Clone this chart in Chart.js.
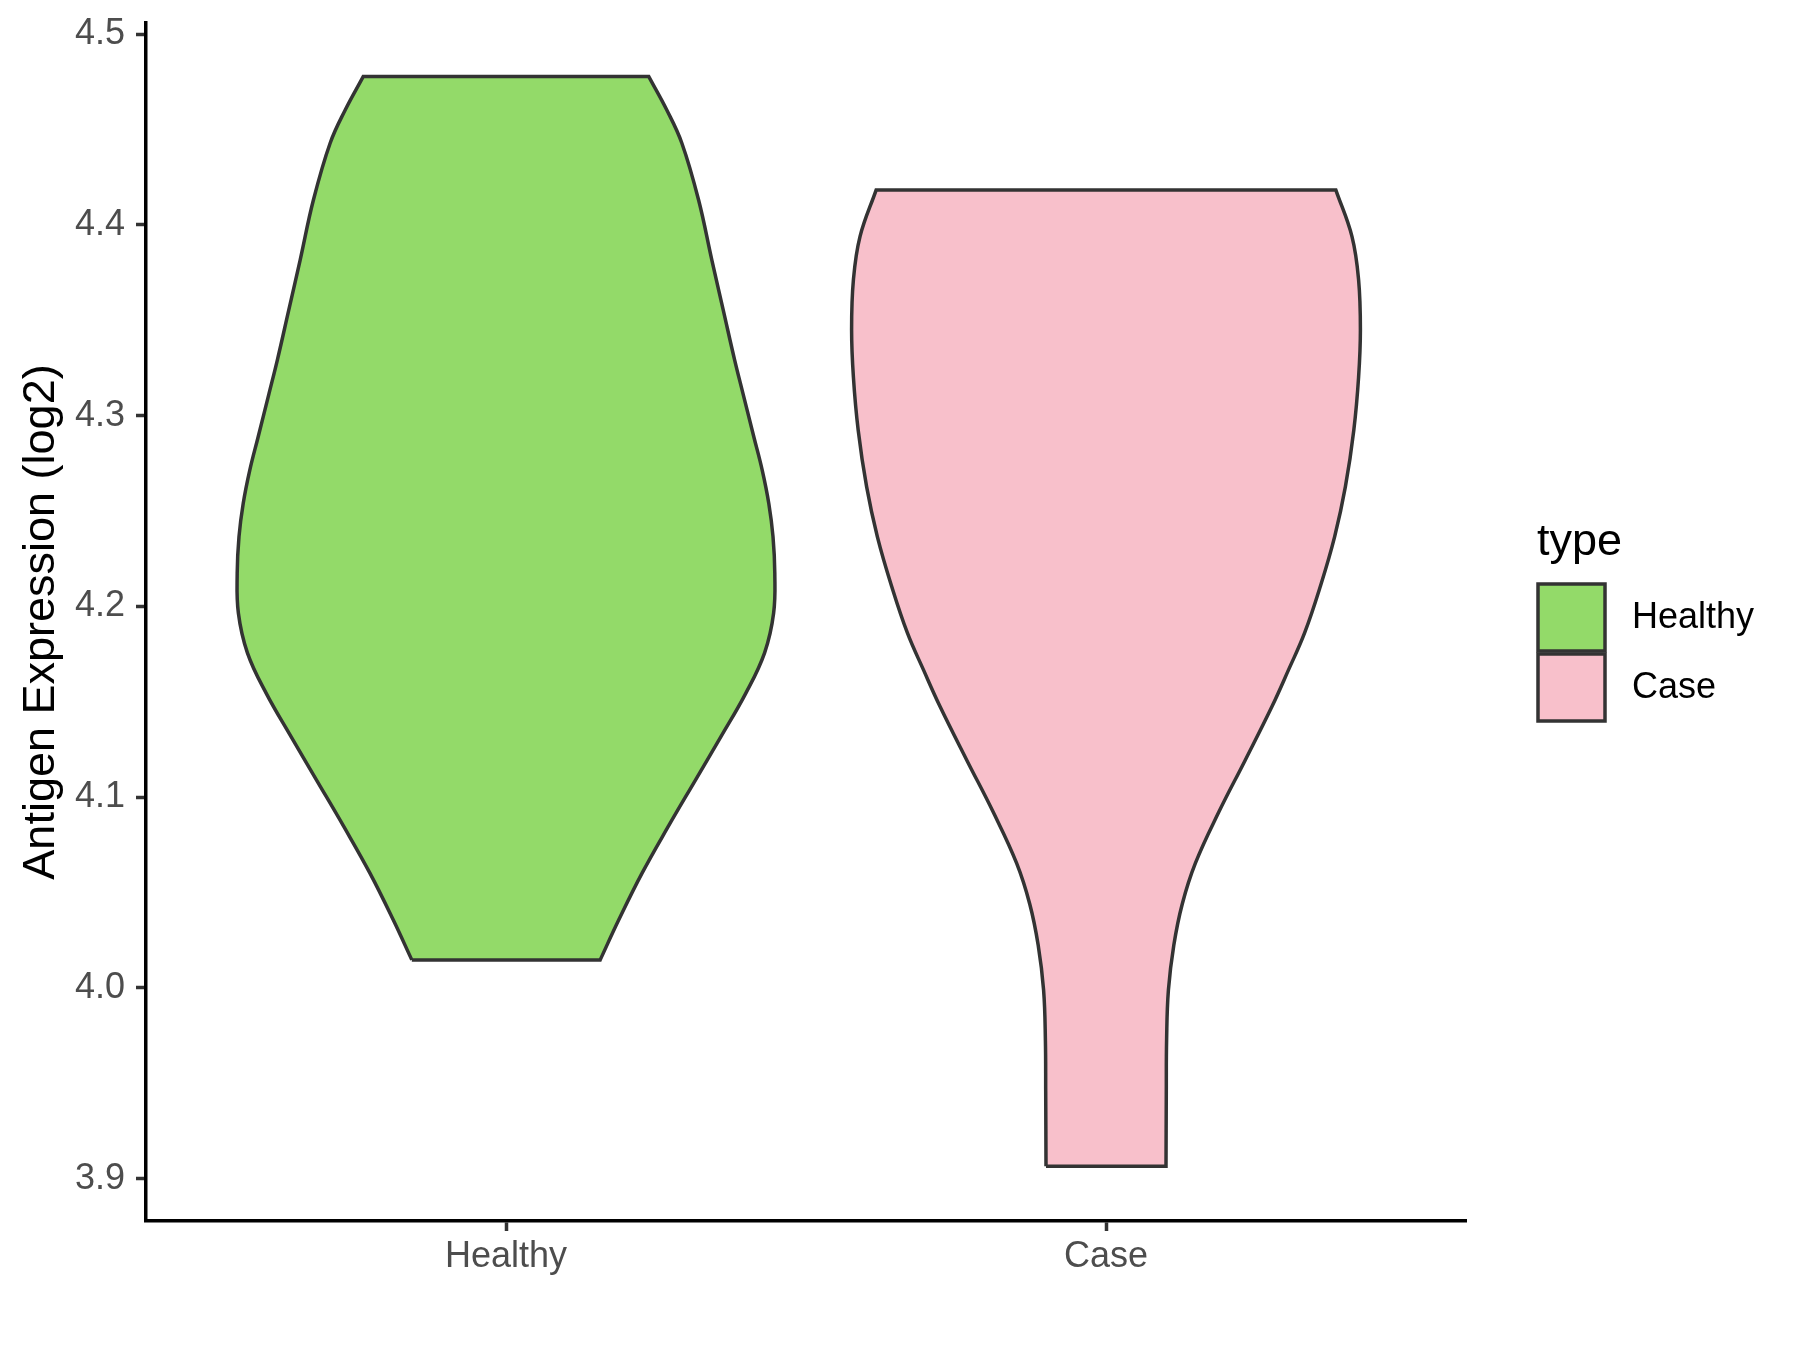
<!DOCTYPE html>
<html>
<head>
<meta charset="utf-8">
<script src="https://cdn.jsdelivr.net/npm/chart.js@4.4.1/dist/chart.umd.min.js"></script>
<style>
  html, body { margin: 0; padding: 0; background: #ffffff; }
  canvas { display: block; }
</style>
</head>
<body>
<canvas id="chart" width="1800" height="1350"></canvas>
<script>
// categories on the x axis and the legend
const categories = ['Healthy', 'Case'];
const fills = ['#93DA69', '#F8C0CB'];

// violin outlines: level (log2) and half width (in category units)
const healthyLevels = [4.0147, 4.0357, 4.0603, 4.0844, 4.1091, 4.1316, 4.1547, 4.1757, 4.1964, 4.2174,
  4.2366, 4.2540, 4.2715, 4.2890, 4.3116, 4.3293, 4.3555, 4.3817, 4.4131, 4.4430, 4.4603, 4.4778];
const healthyWidths = [0.157, 0.188, 0.227, 0.270, 0.316, 0.358, 0.400, 0.431, 0.446, 0.448,
  0.445, 0.438, 0.427, 0.413, 0.395, 0.381, 0.362, 0.343, 0.321, 0.293, 0.268, 0.238];

const caseLevels = [3.9065, 3.9464, 3.9726, 3.9988, 4.0224, 4.0439, 4.0654, 4.0922, 4.1194, 4.1478,
  4.1666, 4.1861, 4.2103, 4.2365, 4.2628, 4.2924, 4.3203, 4.3449, 4.3712, 4.3939, 4.4184];
const caseWidths = [0.100, 0.1005, 0.101, 0.104, 0.113, 0.127, 0.149, 0.188, 0.232, 0.277,
  0.304, 0.331, 0.357, 0.381, 0.399, 0.413, 0.421, 0.424, 0.421, 0.410, 0.383];

const yTicks = [3.9, 4.0, 4.1, 4.2, 4.3, 4.4, 4.5];
const yMin = 3.8778, yMax = 4.5059;
const xMin = 0.4, xMax = 2.6;

// closed outline: up the left side, down the right side.
// corners are doubled so the flat top/bottom stay straight with tension on
function violinOutline(center, levels, widths) {
  const pts = [];
  const n = levels.length;
  for (let i = 0; i < n; i++) {
    pts.push({x: center - widths[i], y: levels[i]});
  }
  pts.push({x: center - widths[n - 1], y: levels[n - 1]});
  pts.push({x: center + widths[n - 1], y: levels[n - 1]});
  for (let i = n - 1; i >= 0; i--) {
    pts.push({x: center + widths[i], y: levels[i]});
  }
  pts.push({x: center + widths[0], y: levels[0]});
  pts.push({x: center - widths[0], y: levels[0]});
  pts.push({x: center - widths[0], y: levels[0]});
  return pts;
}

function violinDataset(idx, levels, widths) {
  return {
    label: categories[idx],
    data: violinOutline(idx + 1, levels, widths),
    borderColor: '#333333',
    borderWidth: 3.5,
    backgroundColor: fills[idx],
    fill: 'shape',
    tension: 0.4,
    pointRadius: 0,
    pointHoverRadius: 0
  };
}

// legend drawn by hand to sit where ggplot puts it
const typeLegend = {
  id: 'typeLegend',
  afterDraw(chart) {
    const ctx = chart.ctx;
    ctx.save();
    ctx.fillStyle = '#000000';
    ctx.font = '45px "Liberation Sans", Arial, sans-serif';
    ctx.textBaseline = 'alphabetic';
    ctx.textAlign = 'left';
    ctx.fillText('type', 1537, 555);

    categories.forEach((name, i) => {
      const top = 584 + i * 70;
      ctx.fillStyle = fills[i];
      ctx.fillRect(1538, top, 67, 67);
      ctx.strokeStyle = '#333333';
      ctx.lineWidth = 3.5;
      ctx.strokeRect(1538, top, 67, 67);
      ctx.fillStyle = '#000000';
      ctx.font = '36px "Liberation Sans", Arial, sans-serif';
      ctx.textBaseline = 'middle';
      ctx.fillText(name, 1632, top + 34);
    });
    ctx.restore();
  }
};

Chart.defaults.font.family = '"Liberation Sans", Arial, sans-serif';

new Chart(document.getElementById('chart'), {
  type: 'line',
  data: {
    datasets: [
      violinDataset(0, healthyLevels, healthyWidths),
      violinDataset(1, caseLevels, caseWidths)
    ]
  },
  options: {
    responsive: false,
    animation: false,
    devicePixelRatio: 1,
    layout: { padding: { left: 0, top: 23, right: 334, bottom: 0 } },
    plugins: {
      legend: { display: false },
      tooltip: { enabled: false }
    },
    scales: {
      x: {
        type: 'linear',
        min: xMin,
        max: xMax,
        afterFit: (scale) => {
          scale.height = 129;
          scale.paddingLeft = 0;
          scale.paddingRight = 0;
        },
        afterBuildTicks: (scale) => {
          scale.ticks = categories.map((c, i) => ({ value: i + 1 }));
        },
        ticks: {
          font: { size: 36 },
          color: '#4D4D4D',
          padding: 4,
          maxRotation: 0,
          callback: (v) => categories[Math.round(v) - 1]
        },
        grid: {
          drawOnChartArea: false,
          drawTicks: true,
          tickLength: 10,
          tickWidth: 3.5,
          tickColor: '#333333'
        },
        border: { color: '#000000', width: 3.5 }
      },
      y: {
        type: 'linear',
        min: yMin,
        max: yMax,
        afterFit: (scale) => {
          scale.width = 146;
          scale.paddingTop = 0;
          scale.paddingBottom = 0;
        },
        afterBuildTicks: (scale) => {
          scale.ticks = yTicks.map(v => ({ value: v }));
        },
        ticks: {
          font: { size: 36 },
          color: '#4D4D4D',
          padding: 11,
          callback: (v) => v.toFixed(1)
        },
        grid: {
          drawOnChartArea: false,
          drawTicks: true,
          tickLength: 10,
          tickWidth: 3.5,
          tickColor: '#333333'
        },
        border: { color: '#000000', width: 3.5 },
        title: {
          display: true,
          text: 'Antigen Expression (log2)',
          color: '#000000',
          font: { size: 45 },
          padding: { top: 15, bottom: 0 }
        }
      }
    }
  },
  plugins: [typeLegend]
});
</script>
</body>
</html>
